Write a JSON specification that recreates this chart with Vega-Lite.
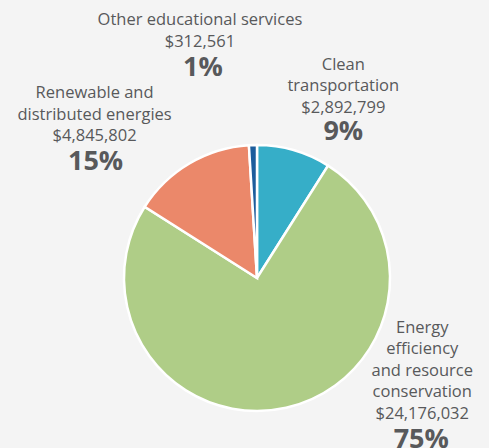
{
  "$schema": "https://vega.github.io/schema/vega-lite/v6.json",
  "width": 464,
  "height": 340,
  "autosize": {"type": "none"},
  "padding": {"left": 25, "top": 108, "right": 0, "bottom": 0},
  "background": "#f4f4f4",
  "view": {"stroke": null},
  "data": {
    "values": [
      {"category": "Clean transportation", "order": 1, "label": "Clean\ntransportation\n$2,892,799", "amount": 2892799, "pct": "9%"},
      {"category": "Energy efficiency and resource conservation", "order": 2, "label": "Energy\nefficiency\nand resource\nconservation\n$24,176,032", "amount": 24176032, "pct": "75%"},
      {"category": "Renewable and distributed energies", "order": 3, "label": "Renewable and\ndistributed energies\n$4,845,802", "amount": 4845802, "pct": "15%"},
      {"category": "Other educational services", "order": 4, "label": "Other educational services\n$312,561", "amount": 312561, "pct": "1%"}
    ]
  },
  "encoding": {
    "theta": {"field": "amount", "type": "quantitative", "stack": true},
    "order": {"field": "order", "type": "quantitative", "sort": "ascending"},
    "color": {
      "field": "category",
      "type": "nominal",
      "scale": {
        "domain": ["Clean transportation", "Energy efficiency and resource conservation", "Renewable and distributed energies", "Other educational services"],
        "range": ["#36aec8", "#afcd87", "#eb886a", "#1c5d9c"]
      },
      "legend": null
    }
  },
  "layer": [
    {"mark": {"type": "arc", "outerRadius": 133, "stroke": "#ffffff", "strokeWidth": 2.5}},
    {
      "mark": {"type": "text", "radius": 200, "dx": -51, "dy": -58, "font": "Open Sans", "fontSize": 16.5, "lineHeight": 22, "lineBreak": "\n", "align": "center", "baseline": "middle"},
      "encoding": {"text": {"condition": {"test": "datum.category == 'Other educational services'", "field": "label"}, "value": ""}, "color": {"value": "#58595b"}}
    },
    {
      "mark": {"type": "text", "radius": 170, "dx": 39, "dy": -50, "font": "Open Sans", "fontSize": 16.5, "lineHeight": 21.5, "lineBreak": "\n", "align": "center", "baseline": "middle"},
      "encoding": {"text": {"condition": {"test": "datum.category == 'Clean transportation'", "field": "label"}, "value": ""}, "color": {"value": "#58595b"}}
    },
    {
      "mark": {"type": "text", "radius": 170, "dx": -76, "dy": -38.5, "font": "Open Sans", "fontSize": 16.5, "lineHeight": 21.5, "lineBreak": "\n", "align": "center", "baseline": "middle"},
      "encoding": {"text": {"condition": {"test": "datum.category == 'Renewable and distributed energies'", "field": "label"}, "value": ""}, "color": {"value": "#58595b"}}
    },
    {
      "mark": {"type": "text", "radius": 170, "dx": 128, "dy": -116, "font": "Open Sans", "fontSize": 16.5, "lineHeight": 21.5, "lineBreak": "\n", "align": "center", "baseline": "middle"},
      "encoding": {"text": {"condition": {"test": "datum.category == 'Energy efficiency and resource conservation'", "field": "label"}, "value": ""}, "color": {"value": "#58595b"}}
    },
    {
      "mark": {"type": "text", "radius": 200, "dx": -48, "dy": -10, "font": "Open Sans", "fontSize": 27, "fontWeight": "bold", "align": "center", "baseline": "middle"},
      "encoding": {"text": {"condition": {"test": "datum.category == 'Other educational services'", "field": "pct"}, "value": ""}, "color": {"value": "#58595b"}}
    },
    {
      "mark": {"type": "text", "radius": 170, "dx": 39, "dy": 17, "font": "Open Sans", "fontSize": 27, "fontWeight": "bold", "align": "center", "baseline": "middle"},
      "encoding": {"text": {"condition": {"test": "datum.category == 'Clean transportation'", "field": "pct"}, "value": ""}, "color": {"value": "#58595b"}}
    },
    {
      "mark": {"type": "text", "radius": 170, "dx": -75, "dy": 30, "font": "Open Sans", "fontSize": 27, "fontWeight": "bold", "align": "center", "baseline": "middle"},
      "encoding": {"text": {"condition": {"test": "datum.category == 'Renewable and distributed energies'", "field": "pct"}, "value": ""}, "color": {"value": "#58595b"}}
    },
    {
      "mark": {"type": "text", "radius": 170, "dx": 127, "dy": -4, "font": "Open Sans", "fontSize": 27, "fontWeight": "bold", "align": "center", "baseline": "middle"},
      "encoding": {"text": {"condition": {"test": "datum.category == 'Energy efficiency and resource conservation'", "field": "pct"}, "value": ""}, "color": {"value": "#58595b"}}
    }
  ]
}
